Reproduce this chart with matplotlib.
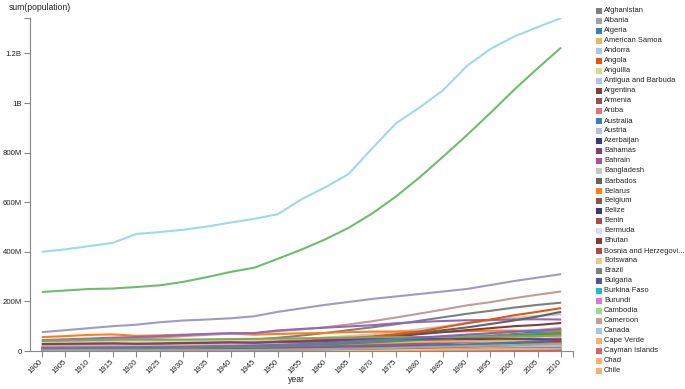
import matplotlib
matplotlib.use("Agg")
import matplotlib.pyplot as plt
from matplotlib.patches import Rectangle
from matplotlib.ticker import FuncFormatter, FixedLocator

plt.rcParams['font.family'] = ['Liberation Sans', 'DejaVu Sans']

# years on the x axis
years = list(range(1900, 2011, 5))

# population in millions, one value per 5 years (1900 .. 2010)
afghanistan = [5.0, 5.2, 5.4, 5.6, 5.8, 6.1, 6.4, 6.7, 7.1, 7.5, 8.2, 8.9, 9.8, 10.9, 12.4, 14.1, 13.4, 11.6, 13.6, 19.0, 22.9, 26.3, 29.1]
albania = [0.8, 0.8, 0.85, 0.85, 0.9, 0.95, 1.0, 1.05, 1.1, 1.15, 1.2, 1.4, 1.6, 1.9, 2.1, 2.4, 2.7, 3.0, 3.3, 3.1, 3.1, 3.0, 2.9]
algeria = [4.7, 5.0, 5.3, 5.5, 5.8, 6.0, 6.3, 6.9, 7.5, 8.1, 8.9, 9.8, 11.1, 12.0, 13.7, 16.0, 18.8, 22.0, 25.1, 28.0, 30.5, 33.0, 35.5]
american_samoa = [0.006, 0.007, 0.008, 0.008, 0.008, 0.009, 0.01, 0.012, 0.013, 0.015, 0.019, 0.02, 0.02, 0.025, 0.027, 0.03, 0.032, 0.038, 0.047, 0.053, 0.058, 0.062, 0.066]
andorra = [0.005, 0.005, 0.005, 0.005, 0.005, 0.005, 0.005, 0.005, 0.006, 0.006, 0.006, 0.007, 0.009, 0.014, 0.02, 0.027, 0.034, 0.045, 0.053, 0.064, 0.066, 0.078, 0.085]
angola = [2.9, 3.0, 3.1, 3.2, 3.2, 3.3, 3.4, 3.6, 3.7, 3.9, 4.1, 4.5, 5.0, 5.4, 5.9, 6.7, 7.6, 8.9, 10.3, 12.0, 13.9, 16.5, 19.0]
anguilla = [0.004, 0.004, 0.004, 0.004, 0.004, 0.004, 0.004, 0.005, 0.005, 0.005, 0.005, 0.006, 0.006, 0.006, 0.007, 0.007, 0.007, 0.007, 0.008, 0.009, 0.011, 0.013, 0.015]
antigua = [0.035, 0.034, 0.033, 0.032, 0.03, 0.03, 0.03, 0.033, 0.036, 0.042, 0.046, 0.051, 0.055, 0.06, 0.066, 0.069, 0.069, 0.063, 0.063, 0.068, 0.077, 0.083, 0.087]
argentina = [4.7, 5.8, 7.0, 8.1, 8.9, 10.4, 11.9, 13.0, 14.2, 15.4, 17.2, 18.9, 20.6, 22.3, 23.9, 26.1, 28.4, 30.6, 32.6, 34.8, 37.0, 39.1, 41.3]
armenia = [0.9, 0.95, 1.0, 1.0, 0.9, 0.95, 1.0, 1.1, 1.2, 1.3, 1.4, 1.6, 1.9, 2.2, 2.5, 2.8, 3.1, 3.3, 3.5, 3.2, 3.1, 3.0, 3.0]
aruba = [0.01, 0.01, 0.01, 0.01, 0.01, 0.012, 0.015, 0.02, 0.03, 0.04, 0.05, 0.055, 0.057, 0.059, 0.06, 0.061, 0.062, 0.063, 0.062, 0.08, 0.09, 0.1, 0.1]
australia = [3.7, 4.0, 4.4, 4.9, 5.4, 6.0, 6.5, 6.8, 7.0, 7.4, 8.3, 9.3, 10.3, 11.4, 12.7, 13.9, 14.7, 15.8, 17.1, 18.1, 19.2, 20.4, 22.3]
austria = [6.0, 6.3, 6.6, 6.4, 6.4, 6.6, 6.7, 6.7, 6.7, 6.9, 6.9, 7.0, 7.0, 7.3, 7.5, 7.6, 7.5, 7.6, 7.7, 8.0, 8.0, 8.2, 8.4]
azerbaijan = [1.9, 2.0, 2.1, 2.2, 2.2, 2.3, 2.5, 2.6, 2.7, 2.7, 2.9, 3.3, 3.9, 4.5, 5.2, 5.7, 6.2, 6.7, 7.2, 7.7, 8.0, 8.4, 9.0]
bahamas = [0.05, 0.055, 0.06, 0.06, 0.055, 0.055, 0.06, 0.065, 0.07, 0.075, 0.08, 0.1, 0.11, 0.14, 0.17, 0.19, 0.21, 0.23, 0.26, 0.28, 0.3, 0.32, 0.35]
bahrain = [0.1, 0.1, 0.1, 0.1, 0.1, 0.1, 0.1, 0.1, 0.1, 0.1, 0.12, 0.13, 0.16, 0.19, 0.22, 0.27, 0.36, 0.42, 0.5, 0.56, 0.64, 0.78, 1.2]
bangladesh = [29.0, 30.3, 31.6, 32.4, 33.3, 34.4, 35.6, 38.5, 41.9, 43.2, 44.8, 49.0, 54.6, 60.3, 67.4, 76.3, 88.1, 99.4, 113.0, 123.0, 134.0, 141.0, 148.0]
barbados = [0.19, 0.19, 0.17, 0.16, 0.16, 0.16, 0.17, 0.18, 0.19, 0.2, 0.21, 0.23, 0.23, 0.24, 0.24, 0.25, 0.25, 0.26, 0.26, 0.26, 0.27, 0.27, 0.28]
belarus = [6.0, 6.3, 6.6, 6.8, 6.5, 6.7, 7.0, 7.3, 7.6, 6.8, 7.7, 8.0, 8.2, 8.6, 9.0, 9.4, 9.6, 9.9, 10.2, 10.2, 10.0, 9.7, 9.5]
belgium = [6.7, 7.1, 7.4, 7.3, 7.5, 7.9, 8.1, 8.3, 8.4, 8.3, 8.6, 8.9, 9.2, 9.5, 9.7, 9.8, 9.9, 9.9, 10.0, 10.1, 10.3, 10.5, 10.9]
belize = [0.04, 0.04, 0.04, 0.045, 0.045, 0.05, 0.05, 0.055, 0.06, 0.065, 0.07, 0.08, 0.09, 0.1, 0.12, 0.13, 0.14, 0.16, 0.19, 0.21, 0.25, 0.28, 0.31]
benin = [1.0, 1.05, 1.1, 1.15, 1.2, 1.25, 1.3, 1.4, 1.5, 1.6, 1.7, 1.9, 2.1, 2.4, 2.7, 3.0, 3.5, 4.0, 4.7, 5.6, 6.5, 7.8, 9.1]
bermuda = [0.017, 0.018, 0.019, 0.02, 0.021, 0.025, 0.028, 0.03, 0.033, 0.035, 0.037, 0.04, 0.044, 0.049, 0.052, 0.054, 0.055, 0.057, 0.06, 0.062, 0.063, 0.064, 0.065]
bhutan = [0.2, 0.21, 0.22, 0.23, 0.24, 0.25, 0.26, 0.27, 0.28, 0.29, 0.3, 0.33, 0.37, 0.41, 0.46, 0.52, 0.58, 0.6, 0.56, 0.52, 0.56, 0.65, 0.7]
bosnia = [1.6, 1.7, 1.8, 1.85, 1.9, 2.0, 2.2, 2.3, 2.4, 2.5, 2.7, 3.0, 3.3, 3.5, 3.7, 3.9, 4.1, 4.3, 4.5, 3.4, 3.8, 3.8, 3.8]
botswana = [0.12, 0.13, 0.14, 0.15, 0.16, 0.2, 0.25, 0.28, 0.3, 0.35, 0.41, 0.46, 0.51, 0.58, 0.69, 0.83, 0.96, 1.13, 1.3, 1.48, 1.72, 1.86, 2.0]
brazil = [17.4, 19.4, 21.5, 24.3, 27.4, 30.3, 33.6, 37.2, 41.1, 46.3, 53.4, 62.3, 72.7, 84.0, 95.7, 108.0, 122.0, 136.0, 150.0, 162.0, 175.0, 186.0, 195.0]
bulgaria = [3.7, 4.0, 4.3, 4.6, 4.8, 5.4, 5.8, 6.1, 6.4, 6.9, 7.3, 7.5, 7.9, 8.2, 8.5, 8.7, 8.9, 8.9, 8.7, 8.4, 8.0, 7.7, 7.1]
burkina = [2.0, 2.1, 2.2, 2.3, 2.5, 2.7, 2.9, 3.2, 3.6, 4.0, 4.3, 4.6, 4.9, 5.3, 5.8, 6.2, 6.8, 7.7, 8.8, 10.1, 11.6, 13.4, 16.2]
burundi = [1.3, 1.4, 1.5, 1.6, 1.7, 1.8, 1.9, 2.1, 2.2, 2.3, 2.4, 2.6, 2.8, 3.2, 3.5, 3.7, 4.1, 4.7, 5.4, 5.9, 6.5, 7.8, 9.9]
cambodia = [2.0, 2.2, 2.4, 2.6, 2.9, 3.2, 3.4, 3.7, 4.0, 4.3, 4.5, 5.2, 5.7, 6.4, 7.0, 7.1, 6.7, 7.9, 9.5, 11.0, 12.4, 13.3, 14.1]
cameroon = [3.0, 3.1, 3.2, 3.3, 3.4, 3.6, 3.8, 4.0, 4.2, 4.3, 4.5, 4.9, 5.3, 5.9, 6.5, 7.3, 8.3, 9.5, 11.1, 12.7, 14.4, 17.0, 19.6]
canada = [5.5, 6.3, 7.2, 8.0, 8.8, 9.6, 10.4, 11.0, 11.4, 12.1, 14.0, 16.0, 18.0, 19.7, 21.7, 23.2, 24.5, 25.9, 27.8, 29.3, 30.8, 32.3, 34.0]
cape_verde = [0.15, 0.15, 0.15, 0.16, 0.16, 0.16, 0.15, 0.15, 0.16, 0.16, 0.15, 0.17, 0.2, 0.23, 0.27, 0.28, 0.29, 0.31, 0.35, 0.39, 0.43, 0.46, 0.5]
cayman = [0.005, 0.005, 0.005, 0.005, 0.005, 0.005, 0.006, 0.006, 0.006, 0.006, 0.006, 0.007, 0.008, 0.009, 0.01, 0.014, 0.017, 0.021, 0.026, 0.032, 0.04, 0.045, 0.051]
chad = [1.3, 1.4, 1.5, 1.6, 1.7, 1.8, 1.9, 2.1, 2.2, 2.4, 2.6, 2.8, 3.0, 3.3, 3.6, 4.0, 4.5, 5.1, 5.9, 6.9, 8.0, 9.7, 11.2]
chile = [2.9, 3.1, 3.3, 3.5, 3.8, 4.1, 4.4, 4.7, 5.1, 5.6, 6.1, 6.9, 7.6, 8.5, 9.5, 10.4, 11.1, 12.0, 13.1, 14.4, 15.4, 16.2, 17.0]

# countries further down the alphabet (not shown in the legend)
china = [400, 410, 423, 436, 472, 480, 489, 502, 518, 533, 552, 612, 660, 714, 818, 918, 982, 1052, 1149, 1218, 1268, 1306, 1343]
colombia = [4.0, 4.3, 4.7, 5.2, 6.0, 6.7, 7.4, 8.2, 9.0, 10.2, 12.0, 13.6, 16.0, 18.5, 21.4, 24.0, 26.6, 29.5, 32.9, 36.0, 39.9, 42.9, 46.3]
congo_dr = [9.0, 9.3, 9.6, 10.0, 10.3, 10.7, 11.2, 11.8, 12.3, 13.0, 14.0, 15.0, 17.0, 19.0, 22.0, 25.0, 28.0, 32.0, 37.0, 44.0, 50.0, 58.0, 66.0]
egypt = [10.0, 11.0, 12.0, 12.5, 13.0, 14.0, 15.0, 16.0, 17.0, 19.0, 21.0, 24.0, 27.0, 30.0, 34.0, 38.0, 43.0, 50.0, 56.0, 62.0, 68.0, 75.0, 81.0]
ethiopia = [11.0, 11.5, 12.0, 12.5, 13.0, 13.5, 14.0, 15.0, 16.0, 17.0, 18.4, 20.0, 22.0, 25.0, 29.0, 33.0, 35.0, 41.0, 48.0, 57.0, 66.0, 75.0, 83.0]
france = [38.5, 39.0, 39.5, 39.0, 39.0, 40.0, 41.0, 41.5, 41.0, 40.0, 41.8, 43.4, 45.6, 48.6, 50.8, 52.6, 53.9, 55.2, 56.7, 57.8, 59.0, 61.0, 63.0]
germany = [56.0, 60.0, 65.0, 67.0, 61.0, 63.0, 66.0, 68.0, 70.0, 66.0, 69.0, 71.0, 73.0, 76.0, 78.0, 78.7, 78.3, 77.7, 79.4, 81.7, 82.2, 82.5, 81.8]
ghana = [1.9, 2.0, 2.1, 2.2, 2.3, 2.5, 2.8, 3.1, 3.5, 4.0, 4.9, 5.6, 6.7, 7.7, 8.6, 9.8, 10.8, 12.7, 14.6, 16.6, 18.8, 21.1, 24.0]
india = [238, 244, 250, 252, 258, 265, 279, 298, 319, 336, 372, 409, 450, 497, 555, 623, 700, 784, 870, 960, 1053, 1140, 1224]
indonesia = [40, 42, 45, 48, 50, 54, 60, 65, 70, 72, 80, 87, 96, 107, 120, 135, 151, 167, 184, 197, 213, 227, 240]
iran = [10.0, 10.3, 10.6, 11.0, 11.5, 12.0, 12.5, 13.0, 14.0, 15.0, 17.0, 19.0, 21.0, 25.0, 29.0, 33.0, 39.0, 47.0, 56.0, 60.0, 65.0, 69.0, 74.0]
iraq = [2.2, 2.3, 2.4, 2.5, 2.7, 2.9, 3.2, 3.5, 4.0, 4.5, 5.2, 6.0, 7.3, 8.4, 10.0, 11.7, 13.7, 16.0, 18.1, 20.5, 23.6, 26.8, 29.7]
italy = [32.5, 33.5, 35.0, 36.0, 37.0, 39.0, 41.0, 42.5, 44.0, 45.0, 46.4, 48.0, 49.5, 51.9, 53.8, 55.4, 56.4, 56.6, 56.7, 56.8, 56.9, 58.1, 60.5]
japan = [44, 47, 50, 54, 56, 60, 64, 69, 72, 72, 83, 89, 94, 99, 104, 112, 117, 121, 124, 125, 127, 128, 127]
kenya = [2.9, 3.0, 3.2, 3.3, 3.4, 3.6, 3.9, 4.5, 5.0, 5.5, 6.1, 7.0, 8.1, 9.5, 11.3, 13.5, 16.3, 19.6, 23.4, 27.4, 31.3, 35.6, 40.0]
korea_north = [4.5, 4.8, 5.2, 5.6, 6.0, 6.6, 7.3, 8.0, 8.7, 9.3, 9.7, 9.0, 11.4, 12.6, 14.4, 16.0, 17.4, 18.6, 20.2, 21.4, 22.8, 23.5, 24.0]
korea_south = [8.0, 8.5, 9.0, 10.0, 11.0, 12.0, 13.0, 14.0, 15.5, 17.0, 20.0, 21.5, 25.0, 28.7, 32.0, 35.0, 38.0, 40.8, 42.9, 45.1, 47.4, 48.2, 48.9]
malaysia = [1.5, 1.7, 2.0, 2.4, 2.8, 3.1, 3.6, 4.0, 4.5, 5.2, 6.1, 7.1, 8.2, 9.5, 10.8, 12.3, 13.8, 15.6, 17.5, 20.2, 22.9, 25.6, 27.9]
mexico = [13.6, 14.0, 15.2, 15.0, 14.4, 15.5, 16.6, 18.0, 19.7, 22.0, 27.7, 31.0, 38.0, 44.0, 51.0, 59.0, 68.0, 76.0, 84.0, 92.0, 100.0, 105.0, 113.0]
morocco = [5.0, 5.1, 5.2, 5.3, 5.4, 5.6, 5.9, 6.4, 7.0, 8.0, 9.0, 10.1, 11.6, 13.3, 15.3, 17.3, 19.5, 21.9, 24.8, 26.9, 28.8, 30.5, 32.0]
myanmar = [11.0, 11.5, 12.0, 12.5, 13.0, 13.5, 14.5, 15.5, 16.5, 17.0, 18.0, 20.0, 22.0, 24.5, 27.0, 30.0, 33.0, 36.0, 39.0, 41.5, 44.0, 46.5, 48.0]
nepal = [5.0, 5.2, 5.4, 5.5, 5.6, 5.8, 6.0, 6.3, 6.6, 7.0, 8.3, 8.9, 9.5, 10.5, 11.9, 13.1, 14.6, 16.4, 18.1, 20.4, 23.1, 25.5, 26.9]
netherlands = [5.1, 5.5, 5.9, 6.4, 6.8, 7.4, 7.9, 8.4, 8.9, 9.3, 10.1, 10.8, 11.5, 12.3, 13.0, 13.7, 14.1, 14.5, 15.0, 15.5, 15.9, 16.3, 16.6]
nigeria = [16.0, 16.5, 17.0, 18.0, 19.0, 20.0, 21.0, 22.0, 24.0, 27.0, 33.0, 37.0, 42.0, 48.0, 55.0, 63.0, 74.0, 84.0, 95.0, 109.0, 123.0, 139.0, 158.0]
pakistan = [20.0, 21.0, 22.0, 22.5, 23.0, 24.0, 26.0, 28.0, 30.0, 33.0, 37.0, 41.0, 46.0, 52.0, 59.0, 68.0, 79.0, 95.0, 112.0, 127.0, 144.0, 158.0, 173.0]
peru = [3.8, 4.0, 4.3, 4.6, 4.9, 5.3, 5.7, 6.2, 6.7, 7.2, 7.6, 8.6, 9.9, 11.3, 13.2, 15.2, 17.3, 19.5, 21.8, 24.0, 26.0, 27.8, 29.1]
philippines = [7.6, 8.0, 8.8, 9.5, 10.3, 11.5, 12.8, 14.5, 16.0, 17.5, 18.6, 22.0, 26.0, 31.0, 36.0, 42.0, 48.0, 55.0, 62.0, 69.0, 77.0, 85.0, 93.0]
poland = [22.0, 23.0, 25.0, 25.0, 24.0, 26.0, 28.0, 30.0, 31.0, 24.0, 24.8, 27.0, 29.6, 31.5, 32.7, 34.0, 35.6, 37.2, 38.1, 38.6, 38.5, 38.2, 38.2]
romania = [11.0, 11.5, 12.0, 12.5, 12.5, 13.5, 14.3, 15.0, 15.9, 15.8, 16.3, 17.3, 18.4, 19.0, 20.3, 21.2, 22.2, 22.7, 23.2, 22.7, 22.4, 21.6, 20.3]
saudi_arabia = [2.0, 2.1, 2.2, 2.3, 2.4, 2.6, 2.8, 2.9, 3.0, 3.1, 3.9, 4.3, 4.7, 5.3, 6.1, 7.3, 9.8, 13.4, 16.3, 18.8, 20.5, 23.6, 26.1]
south_africa = [5.0, 5.5, 6.0, 6.5, 7.0, 7.8, 8.5, 9.5, 10.5, 11.5, 13.6, 15.0, 17.4, 20.0, 22.5, 25.5, 29.0, 32.5, 36.5, 41.0, 44.9, 47.6, 50.0]
spain = [18.6, 19.0, 19.9, 20.5, 21.0, 22.0, 23.6, 24.5, 25.8, 26.7, 28.0, 29.0, 30.5, 32.0, 33.8, 35.5, 37.5, 38.5, 38.8, 39.4, 40.3, 43.4, 46.0]
sri_lanka = [3.6, 3.9, 4.2, 4.4, 4.6, 5.0, 5.4, 5.7, 6.0, 6.7, 7.5, 8.5, 9.8, 11.1, 12.5, 13.7, 14.7, 15.9, 17.0, 18.0, 18.8, 19.6, 20.8]
sudan = [4.0, 4.3, 4.6, 4.9, 5.3, 5.7, 6.1, 6.6, 7.1, 7.6, 8.1, 9.1, 10.3, 11.7, 13.5, 15.8, 18.6, 21.6, 24.9, 28.5, 32.0, 36.2, 40.9]
tanzania = [3.5, 3.7, 3.9, 4.1, 4.3, 4.6, 5.0, 5.4, 6.0, 6.7, 7.6, 8.6, 9.9, 11.5, 13.6, 16.0, 18.7, 21.8, 25.5, 30.0, 34.0, 38.8, 44.8]
thailand = [7.0, 7.5, 8.0, 8.5, 9.2, 10.5, 12.0, 14.0, 15.5, 17.0, 20.0, 23.0, 27.0, 31.0, 36.0, 41.0, 47.0, 51.0, 55.0, 58.0, 62.0, 65.0, 67.0]
turkey = [12.0, 12.5, 13.0, 13.0, 12.0, 13.0, 14.5, 16.0, 17.8, 18.8, 21.0, 24.0, 27.5, 31.0, 35.0, 40.0, 44.5, 50.0, 56.0, 60.0, 64.0, 68.0, 73.0]
uganda = [2.5, 2.6, 2.7, 2.8, 3.0, 3.2, 3.5, 3.9, 4.3, 4.7, 5.2, 6.0, 6.8, 8.1, 9.5, 11.0, 12.6, 14.8, 17.4, 20.6, 24.0, 28.3, 33.4]
ukraine = [28.0, 29.0, 30.0, 31.0, 29.0, 30.0, 32.0, 33.0, 35.0, 33.0, 37.0, 39.0, 42.7, 45.0, 47.3, 48.8, 50.0, 50.9, 51.9, 51.5, 49.2, 47.1, 45.9]
united_kingdom = [41.0, 43.0, 45.0, 46.0, 46.8, 46.0, 46.0, 47.0, 48.0, 49.0, 50.1, 51.0, 52.4, 54.3, 55.6, 56.2, 56.3, 56.6, 57.2, 58.0, 58.9, 60.2, 62.0]
united_states = [76, 84, 92, 100, 106, 116, 123, 127, 132, 140, 158, 172, 186, 198, 210, 220, 230, 240, 250, 266, 282, 296, 310]
venezuela = [2.5, 2.6, 2.7, 2.8, 2.9, 3.1, 3.3, 3.5, 3.9, 4.4, 5.1, 6.2, 7.6, 9.1, 10.7, 12.7, 15.1, 17.1, 19.5, 21.9, 24.3, 26.7, 28.8]
vietnam = [13.0, 13.5, 14.0, 15.0, 15.5, 16.5, 17.5, 19.0, 20.0, 22.0, 25.0, 28.0, 32.0, 37.0, 43.0, 48.0, 54.0, 60.0, 66.0, 72.0, 78.0, 82.0, 88.0]

series = [
    ("Afghanistan", afghanistan), ("Albania", albania), ("Algeria", algeria),
    ("American Samoa", american_samoa), ("Andorra", andorra), ("Angola", angola),
    ("Anguilla", anguilla), ("Antigua and Barbuda", antigua), ("Argentina", argentina),
    ("Armenia", armenia), ("Aruba", aruba), ("Australia", australia), ("Austria", austria),
    ("Azerbaijan", azerbaijan), ("Bahamas", bahamas), ("Bahrain", bahrain),
    ("Bangladesh", bangladesh), ("Barbados", barbados), ("Belarus", belarus),
    ("Belgium", belgium), ("Belize", belize), ("Benin", benin), ("Bermuda", bermuda),
    ("Bhutan", bhutan), ("Bosnia and Herzegovi...", bosnia), ("Botswana", botswana),
    ("Brazil", brazil), ("Bulgaria", bulgaria), ("Burkina Faso", burkina),
    ("Burundi", burundi), ("Cambodia", cambodia), ("Cameroon", cameroon),
    ("Canada", canada), ("Cape Verde", cape_verde), ("Cayman Islands", cayman),
    ("Chad", chad), ("Chile", chile),
    ("China", china), ("Colombia", colombia), ("Congo, Dem. Rep.", congo_dr),
    ("Egypt", egypt), ("Ethiopia", ethiopia), ("France", france), ("Germany", germany),
    ("Ghana", ghana), ("India", india), ("Indonesia", indonesia), ("Iran", iran),
    ("Iraq", iraq), ("Italy", italy), ("Japan", japan), ("Kenya", kenya),
    ("Korea, North", korea_north), ("Korea, South", korea_south), ("Malaysia", malaysia),
    ("Mexico", mexico), ("Morocco", morocco), ("Myanmar", myanmar), ("Nepal", nepal),
    ("Netherlands", netherlands), ("Nigeria", nigeria), ("Pakistan", pakistan),
    ("Peru", peru), ("Philippines", philippines), ("Poland", poland),
    ("Romania", romania), ("Saudi Arabia", saudi_arabia), ("South Africa", south_africa),
    ("Spain", spain), ("Sri Lanka", sri_lanka), ("Sudan", sudan), ("Tanzania", tanzania),
    ("Thailand", thailand), ("Turkey", turkey), ("Uganda", uganda), ("Ukraine", ukraine),
    ("United Kingdom", united_kingdom), ("United States", united_states),
    ("Venezuela", venezuela), ("Vietnam", vietnam),
]

colors = {
    "Afghanistan": "#7f7f7f", "Albania": "#a3a3a3", "Algeria": "#3182bd",
    "American Samoa": "#e7ba52", "Andorra": "#aec7e8", "Angola": "#e6550d",
    "Anguilla": "#dbdb8d", "Antigua and Barbuda": "#aec7e8", "Argentina": "#843c39",
    "Armenia": "#8c564b", "Aruba": "#e7707c", "Australia": "#3182bd", "Austria": "#bcbddc",
    "Azerbaijan": "#393b79", "Bahamas": "#7b4173", "Bahrain": "#a55194",
    "Bangladesh": "#c7c7c7", "Barbados": "#636363", "Belarus": "#ff7f0e",
    "Belgium": "#8c564b", "Belize": "#393b79", "Benin": "#ad494a", "Bermuda": "#dadaeb",
    "Bhutan": "#843c39", "Bosnia and Herzegovi...": "#ad494a", "Botswana": "#e7cb94",
    "Brazil": "#7f7f7f", "Bulgaria": "#5254a3", "Burkina Faso": "#17becf",
    "Burundi": "#e377c2", "Cambodia": "#98df8a", "Cameroon": "#c49c94",
    "Canada": "#9ecae1", "Cape Verde": "#fdae6b", "Cayman Islands": "#d6616b",
    "Chad": "#fdae6b", "Chile": "#fdae6b",
    "China": "#9edae5", "Colombia": "#de9ed6", "Congo, Dem. Rep.": "#3182bd",
    "Egypt": "#ad494a", "Ethiopia": "#3182bd", "France": "#9c9ede", "Germany": "#ff7f0e",
    "Ghana": "#c7c7c7", "India": "#6cbf6a", "Indonesia": "#c49c94", "Iran": "#fd8d3c",
    "Iraq": "#7f7f7f", "Italy": "#cedb9c", "Japan": "#9467bd", "Kenya": "#3182bd",
    "Korea, North": "#a3a3a3", "Korea, South": "#393b79", "Malaysia": "#6baed6",
    "Mexico": "#843c39", "Morocco": "#bdbdbd", "Myanmar": "#bd9e39", "Nepal": "#969696",
    "Netherlands": "#7f7f7f", "Nigeria": "#636363", "Pakistan": "#e6550d",
    "Peru": "#8c6d31", "Philippines": "#e7969c", "Poland": "#ce6dbd",
    "Romania": "#636363", "Saudi Arabia": "#e7cb94", "South Africa": "#a55194",
    "Spain": "#e7ba52", "Sri Lanka": "#9ecae1", "Sudan": "#843c39", "Tanzania": "#3182bd",
    "Thailand": "#d6616b", "Turkey": "#31a354", "Uganda": "#e6550d", "Ukraine": "#7b4173",
    "United Kingdom": "#8ca252", "United States": "#9e9ac8", "Venezuela": "#a3a3a3",
    "Vietnam": "#6b6ecf",
}

legend_count = 37  # only the first entries fit in the legend column

W, H = 685, 389
fig = plt.figure(figsize=(W / 100, H / 100), dpi=100)
ax = fig.add_axes([30 / W, 1 - 351 / H, (573 - 30) / W, (351 - 18) / H])

xs = list(range(len(years)))
for name, vals in series:
    ax.plot(xs, [v * 1e6 for v in vals], color=colors[name], lw=1.5,
            solid_joinstyle='round', solid_capstyle='butt')

ymax = max(max(v) for _, v in series) * 1e6
ax.set_xlim(-0.5, len(years) - 0.5)
ax.set_ylim(0, ymax)

ax.set_xticks(xs)
ax.set_xticklabels([str(y) for y in years], rotation=45, ha='right',
                   va='center', rotation_mode='anchor')
ax.xaxis.set_minor_locator(FixedLocator([len(years) - 0.5]))
ax.yaxis.set_minor_locator(FixedLocator([ymax]))
ax.set_yticks([0, 2e8, 4e8, 6e8, 8e8, 1e9, 1.2e9])


def fmt(v, pos):
    if v == 0:
        return "0"
    if v >= 1e9:
        return f"{v / 1e9:g}B"
    return f"{v / 1e6:g}M"


ax.yaxis.set_major_formatter(FuncFormatter(fmt))

axis_col = "#888888"
for s in ['top', 'right']:
    ax.spines[s].set_visible(False)
for s in ['left', 'bottom']:
    ax.spines[s].set_color(axis_col)
    ax.spines[s].set_linewidth(0.8)
ax.tick_params(axis='both', which='both', color=axis_col, width=0.8, length=4,
               labelsize=5.6, labelcolor='#222222')
ax.tick_params(axis='x', pad=3)
ax.tick_params(axis='y', pad=2)

fig.text(9 / W, 1 - 8 / H, "sum(population)", fontsize=6.2, color='#222222',
         ha='left', va='center')
fig.text(296 / W, 1 - 380 / H, "year", fontsize=6.2, color='#222222',
         ha='center', va='center')

# legend column on the right
for i, (name, _) in enumerate(series[:legend_count]):
    cy = 11 + 10 * i
    fig.patches.append(Rectangle((596 / W, 1 - (cy + 3) / H), 6 / W, 6 / H,
                                 transform=fig.transFigure, facecolor=colors[name],
                                 edgecolor='none'))
    fig.text(604 / W, 1 - cy / H, name, fontsize=5.4, color='#222222',
             ha='left', va='center')

fig.savefig("out.png", dpi=100)
